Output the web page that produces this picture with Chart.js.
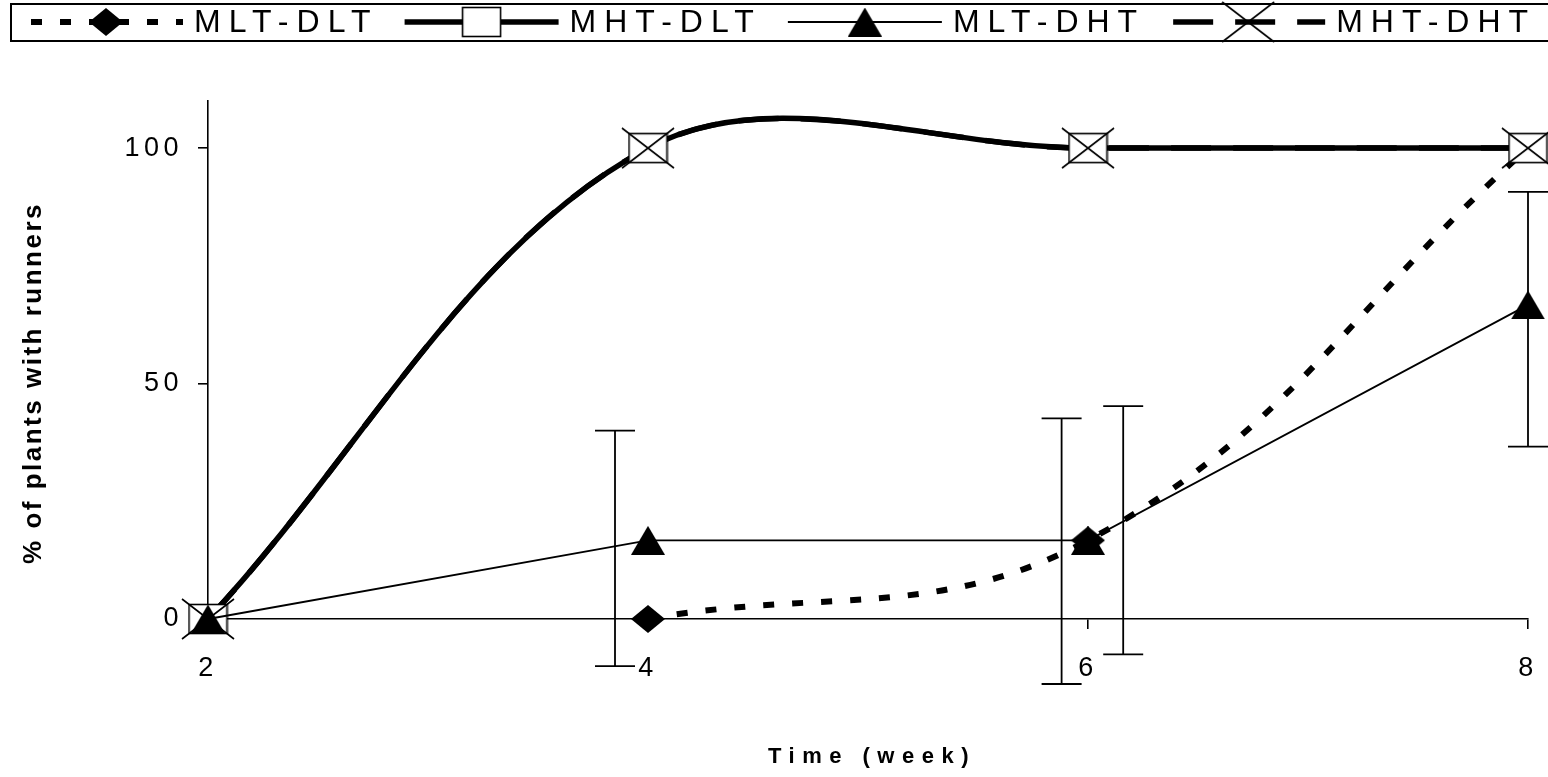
<!DOCTYPE html>
<html>
<head>
<meta charset="utf-8">
<title>Runner formation</title>
<script src="https://cdn.jsdelivr.net/npm/chart.js@4/dist/chart.umd.min.js"></script>
<style>
  html, body { margin: 0; padding: 0; background: #ffffff; }
  #wrap { width: 1548px; height: 777px; position: relative; }
</style>
</head>
<body>
<div id="wrap"><canvas id="chart" width="1548" height="777"></canvas></div>
<script>
// ---- data ----
const weeks = [2, 4, 6, 8];
const seriesNames = ['MLT-DLT', 'MHT-DLT', 'MLT-DHT', 'MHT-DHT'];
const mltDlt = [null, 0, 16.7, 100];
const mhtDlt = [0, 100, 100, 100];
const mltDht = [0, 16.7, 16.7, 66.7];
const mhtDht = [0, 100, 100, 100];

// error bars (week position, lower end, upper end)
const errWeek = [3.85, 5.88, 6.16, 8];
const errLow = [-10, -13.8, -7.5, 36.6];
const errHigh = [40, 42.6, 45.2, 90.7];

const xTicks = [2, 4, 6, 8];
const yTicks = [0, 50, 100];

const xTitle = 'Time (week)';
const yTitle = '% of plants with runners';

// ---- styling ----
const FONT = "'Liberation Sans', Arial, Helvetica, sans-serif";
const INK = '#000000';
const TICK_SPACING = '4.5px';

function points(values) {
  return weeks.map((w, i) => ({ x: w, y: values[i] }));
}

function makeMarker(w, h, paint) {
  const c = document.createElement('canvas');
  c.width = w; c.height = h;
  paint(c.getContext('2d'), w, h);
  return c;
}

const diamondMark = makeMarker(34, 28, (g, w, h) => {
  g.beginPath();
  g.moveTo(0, h / 2); g.lineTo(w / 2, 0); g.lineTo(w, h / 2); g.lineTo(w / 2, h);
  g.closePath();
  g.fillStyle = INK; g.fill();
});
const boxMark = makeMarker(41, 32, (g, w, h) => {
  g.fillStyle = '#ffffff';
  g.fillRect(1.5, 1.5, w - 3, h - 3);
  g.lineWidth = 1.6; g.strokeStyle = INK;
  g.strokeRect(1.5, 1.5, w - 3, h - 3);
});
const crossMark = makeMarker(54, 42, (g, w, h) => {
  g.lineWidth = 1.6; g.strokeStyle = INK;
  g.beginPath();
  g.moveTo(1, 1); g.lineTo(w - 1, h - 1);
  g.moveTo(w - 1, 1); g.lineTo(1, h - 1);
  g.stroke();
});
const triangleMark = makeMarker(34, 29, (g, w, h) => {
  g.beginPath();
  g.moveTo(w / 2, 0); g.lineTo(w, h); g.lineTo(0, h);
  g.closePath();
  g.fillStyle = INK; g.fill();
});

const SMOOTH = 0.35;

// drawing order: lower "order" is painted on top
const datasets = [
  { // MLT-DHT
    label: seriesNames[2], data: points(mltDht), order: 0,
    borderColor: INK, borderWidth: 1.8, tension: 0,
    pointStyle: triangleMark, pointRadius: 14, clip: false
  },
  { // MHT-DHT markers
    label: seriesNames[3], data: points(mhtDht), order: 1,
    showLine: false, pointStyle: crossMark, pointRadius: 14, clip: false
  },
  { // MHT-DLT
    label: seriesNames[1], data: points(mhtDlt), order: 2,
    borderColor: INK, borderWidth: 5.5, tension: SMOOTH,
    pointStyle: boxMark, pointRadius: 14, clip: false
  },
  { // MHT-DHT line
    label: seriesNames[3], data: points(mhtDht), order: 3,
    borderColor: INK, borderWidth: 5.5, borderDash: [40, 22], tension: SMOOTH,
    pointRadius: 0, clip: false
  },
  { // MLT-DLT
    label: seriesNames[0], data: points(mltDlt), order: 4,
    borderColor: INK, borderWidth: 6, borderDash: [11, 18], tension: 0.4,
    pointStyle: diamondMark, pointRadius: 14, clip: false
  }
];

// legend rows: label, dataset giving the line, dataset giving the marker
const legendRows = [
  { label: seriesNames[0], line: 4, mark: 4 },
  { label: seriesNames[1], line: 2, mark: 2 },
  { label: seriesNames[2], line: 0, mark: 0 },
  { label: seriesNames[3], line: 3, mark: 1 }
];

const letterSpacingPlugin = {
  id: 'letterSpacing',
  beforeUpdate(chart) { chart.ctx.letterSpacing = TICK_SPACING; },
  beforeDraw(chart) { chart.ctx.letterSpacing = TICK_SPACING; }
};

const errorBarPlugin = {
  id: 'errorBars',
  afterDatasetsDraw(chart) {
    const { ctx, scales: { x, y } } = chart;
    ctx.save();
    ctx.strokeStyle = INK;
    ctx.lineWidth = 1.8;
    const cap = 20;
    errWeek.forEach((w, i) => {
      const px = x.getPixelForValue(w);
      const lo = y.getPixelForValue(errLow[i]);
      const hi = y.getPixelForValue(errHigh[i]);
      ctx.beginPath();
      ctx.moveTo(px, lo); ctx.lineTo(px, hi);
      ctx.moveTo(px - cap, lo); ctx.lineTo(px + cap, lo);
      ctx.moveTo(px - cap, hi); ctx.lineTo(px + cap, hi);
      ctx.stroke();
    });
    ctx.restore();
  }
};

const frameAndLegendPlugin = {
  id: 'frameAndLegend',
  afterDraw(chart) {
    const { ctx, chartArea } = chart;
    ctx.save();
    ctx.fillStyle = INK;
    ctx.strokeStyle = INK;

    // axis titles
    ctx.letterSpacing = '7.5px';
    ctx.font = `bold 22px ${FONT}`;
    ctx.textAlign = 'center';
    ctx.textBaseline = 'middle';
    ctx.fillText(xTitle, (chartArea.left + chartArea.right) / 2 + 4, chart.height - 20);

    ctx.save();
    ctx.letterSpacing = '2.5px';
    ctx.font = `bold 26px ${FONT}`;
    ctx.translate(34, (chartArea.top + chartArea.bottom) / 2 + 23);
    ctx.rotate(-Math.PI / 2);
    ctx.fillText(yTitle, 0, 0);
    ctx.restore();

    // legend frame
    ctx.lineWidth = 2;
    ctx.strokeRect(11, 4, chart.width + 20, 37);

    // legend entries: line sample with its marker, then the label
    const cy = 22;
    const half = 77;
    let mx = 106;
    ctx.font = `32px ${FONT}`;
    ctx.letterSpacing = '8px';
    ctx.textAlign = 'left';
    legendRows.forEach(row => {
      const lineDs = chart.data.datasets[row.line];
      const markDs = chart.data.datasets[row.mark];
      ctx.save();
      ctx.lineWidth = lineDs.borderWidth;
      ctx.setLineDash(lineDs.borderDash || []);
      ctx.beginPath();
      ctx.moveTo(mx - half + (lineDs.borderDash ? 2 : 0), cy);
      ctx.lineTo(mx + half, cy);
      ctx.stroke();
      ctx.restore();
      Chart.helpers.drawPoint(ctx, { pointStyle: markDs.pointStyle, radius: 10, rotation: 0, borderWidth: 0 },
        mx, cy);
      const tx = mx + 88;
      ctx.fillText(row.label, tx, cy + 1);
      mx = tx + ctx.measureText(row.label).width + 103;
    });
    ctx.restore();
  }
};

Chart.defaults.font.family = FONT;
Chart.defaults.color = INK;

new Chart(document.getElementById('chart'), {
  type: 'line',
  data: { datasets },
  plugins: [letterSpacingPlugin, errorBarPlugin, frameAndLegendPlugin],
  options: {
    responsive: false,
    animation: false,
    devicePixelRatio: 1,
    events: [],
    layout: { padding: { top: 101, right: 0, bottom: 0, left: 0 } },
    elements: {
      line: { capBezierPoints: false, borderCapStyle: 'butt', fill: false },
      point: { borderWidth: 0 }
    },
    plugins: { legend: { display: false }, tooltip: { enabled: false } },
    scales: {
      x: {
        type: 'linear', min: 2, max: 8,
        afterBuildTicks: s => { s.ticks = xTicks.map(v => ({ value: v })); },
        afterFit: s => { s.height = 158; s.paddingRight = 13; },
        grid: {
          drawOnChartArea: false, drawTicks: true, tickLength: 10, lineWidth: 1.6,
          color: INK,
          tickColor: c => (c.tick && c.tick.value === xTicks[0]) ? 'rgba(0,0,0,0)' : INK
        },
        border: { display: true, color: INK, width: 1.6 },
        ticks: { color: INK, font: { size: 27 }, padding: 23, maxRotation: 0, autoSkip: false }
      },
      y: {
        type: 'linear', min: 0, max: 110,
        afterBuildTicks: s => { s.ticks = yTicks.map(v => ({ value: v })); },
        afterFit: s => { s.width = 208; },
        grid: { drawOnChartArea: false, drawTicks: true, tickLength: 10, lineWidth: 1.6, color: INK },
        border: { display: true, color: INK, width: 1.6 },
        ticks: { color: INK, font: { size: 27 }, padding: 15, autoSkip: false }
      }
    }
  }
});
</script>
</body>
</html>
